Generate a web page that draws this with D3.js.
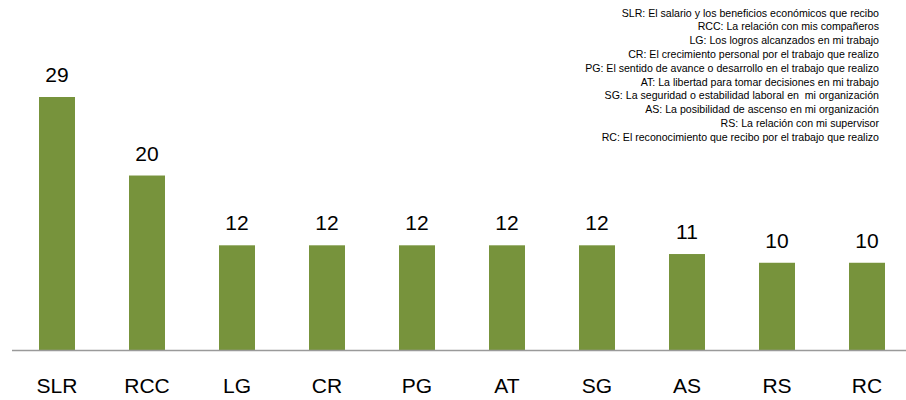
<!DOCTYPE html>
<html>
<head>
<meta charset="utf-8">
<script src="https://cdn.jsdelivr.net/npm/d3@7"></script>
<style>
  html, body { margin: 0; padding: 0; background: #fff; }
  svg text { font-family: "Liberation Sans", Arial, sans-serif; }
</style>
</head>
<body>
<svg id="chart" width="906" height="400"></svg>
<script>
// Factores de satisfacción laboral (frecuencia)
const categories = ["SLR", "RCC", "LG", "CR", "PG", "AT", "SG", "AS", "RS", "RC"];
const values = [29, 20, 12, 12, 12, 12, 12, 11, 10, 10];
const legendLines = [
  "SLR: El salario y los beneficios económicos que recibo",
  "RCC: La relación con mis compañeros",
  "LG: Los logros alcanzados en mi trabajo",
  "CR: El crecimiento personal por el trabajo que realizo",
  "PG: El sentido de avance o desarrollo en el trabajo que realizo",
  "AT: La libertad para tomar decisiones en mi trabajo",
  "SG: La seguridad o estabilidad laboral en  mi organización",
  "AS: La posibilidad de ascenso en mi organización",
  "RS: La relación con mi supervisor",
  "RC: El reconocimiento que recibo por el trabajo que realizo"
];

const svg = d3.select("#chart");
const baseY = 350;

const x = d3.scaleBand()
  .domain(categories)
  .range([12, 912])
  .paddingInner(0.6)
  .paddingOuter(0.3);

const y = d3.scaleLinear()
  .domain([0, 29])
  .range([baseY, 97]);

const data = categories.map((c, i) => ({ c, v: values[i] }));

svg.append("g").selectAll("rect")
  .data(data)
  .join("rect")
  .attr("x", d => x(d.c))
  .attr("y", d => y(d.v))
  .attr("width", x.bandwidth())
  .attr("height", d => baseY - y(d.v))
  .attr("fill", "#77933C");

// Eje horizontal
svg.append("line")
  .attr("x1", 12).attr("x2", 906)
  .attr("y1", baseY + 0.5).attr("y2", baseY + 0.5)
  .attr("stroke", "#9a9a9a")
  .attr("stroke-width", 1.5);

// Etiquetas de valor
svg.append("g").selectAll("text")
  .data(data)
  .join("text")
  .attr("x", d => x(d.c) + x.bandwidth() / 2)
  .attr("y", d => y(d.v) - 15)
  .attr("text-anchor", "middle")
  .attr("font-size", 21)
  .attr("fill", "#000")
  .text(d => d.v);

// Etiquetas de categoría
svg.append("g").selectAll("text")
  .data(categories)
  .join("text")
  .attr("x", d => x(d) + x.bandwidth() / 2)
  .attr("y", 393)
  .attr("text-anchor", "middle")
  .attr("font-size", 21)
  .attr("fill", "#000")
  .text(d => d);

// Leyenda de abreviaturas
svg.append("g").selectAll("text")
  .data(legendLines)
  .join("text")
  .attr("x", 879)
  .attr("y", (d, i) => 16.5 + i * 13.8)
  .attr("text-anchor", "end")
  .attr("font-size", 10.6)
  .attr("fill", "#000")
  .style("white-space", "pre")
  .text(d => d);
</script>
</body>
</html>
